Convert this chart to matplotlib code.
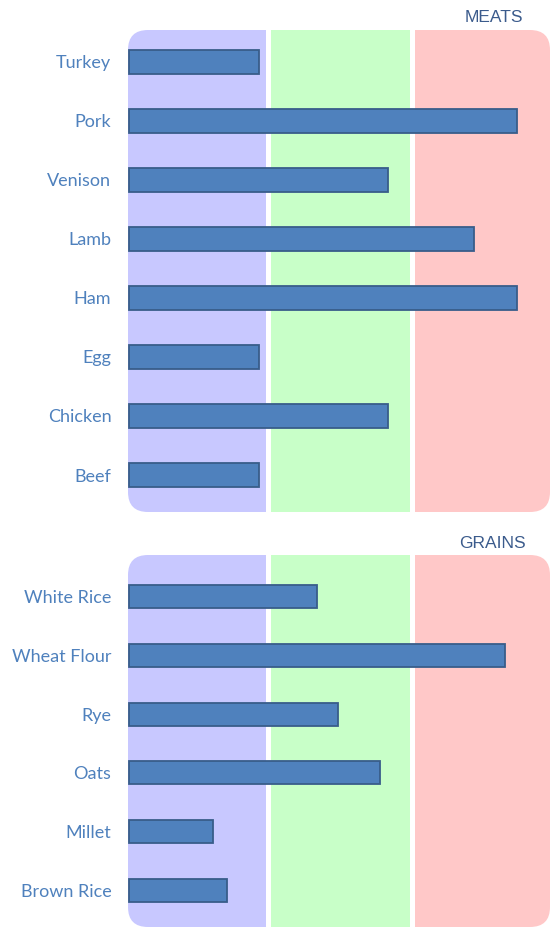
import matplotlib
matplotlib.use("Agg")
import matplotlib.pyplot as plt
from matplotlib.patches import FancyBboxPatch

# data
meats = ["Turkey", "Pork", "Venison", "Lamb", "Ham", "Egg", "Chicken", "Beef"]
meat_vals = [3.08, 9.20, 6.14, 8.18, 9.20, 3.08, 6.14, 3.08]
grains = ["White Rice", "Wheat Flour", "Rye", "Oats", "Millet", "Brown Rice"]
grain_vals = [4.46, 8.91, 4.96, 5.94, 1.99, 2.33]

# zone limits on the value axis
zones = [(0.0, 3.27), (3.39, 6.68), (6.80, 10.0)]
zone_colors = ["#c8c8ff", "#c8ffc8", "#ffc8c8"]

W, H = 550, 930
label_color = "#4f81bd"
title_color = "#3b5b8c"


def draw_panel(ax, names, vals, top_pad, bot_pad, width_px, height_px):
    ax.set_xlim(0, 10)
    ax.set_ylim(len(names) - 1 + bot_pad, -top_pad)
    ax.patch.set_visible(False)
    for s in ax.spines.values():
        s.set_visible(False)

    # rounded outline used to clip the coloured zones
    r = 20.0 / width_px
    clip = FancyBboxPatch((0, 0), 1, 1, boxstyle=f"round,pad=0,rounding_size={r}",
                          mutation_aspect=width_px / height_px,
                          transform=ax.transAxes, facecolor="none", edgecolor="none")
    ax.add_patch(clip)
    for (x0, x1), c in zip(zones, zone_colors):
        span = ax.axvspan(x0, x1, color=c, lw=0, zorder=0)
        span.set_clip_path(clip)

    ax.barh(range(len(names)), vals, height=0.39, left=0.02, color="#4f81bd",
            edgecolor="#385d8a", linewidth=1.3, zorder=3)

    ax.set_yticks(range(len(names)))
    ax.set_yticklabels(names, family="Lato", fontsize=13, color=label_color)
    ax.tick_params(axis="y", length=0, pad=12)
    ax.set_xticks([])


fig = plt.figure(figsize=(W / 100, H / 100), dpi=100)

ax1 = fig.add_axes([128 / W, 1 - 512 / H, 422 / W, 482 / H])
draw_panel(ax1, meats, meat_vals, 32 / 59, 37 / 59, 422, 482)

ax2 = fig.add_axes([128 / W, 1 - 927 / H, 422 / W, 372 / H])
draw_panel(ax2, grains, grain_vals, 42 / 59, 37 / 59, 422, 372)

fig.text(523 / W, 1 - 18 / H, "MEATS", ha="right", va="center",
         family="Liberation Sans", fontsize=12.5, color=title_color)
fig.text(526 / W, 1 - 543 / H, "GRAINS", ha="right", va="center",
         family="Liberation Sans", fontsize=12.5, color=title_color)

fig.savefig("out.png", dpi=100)
